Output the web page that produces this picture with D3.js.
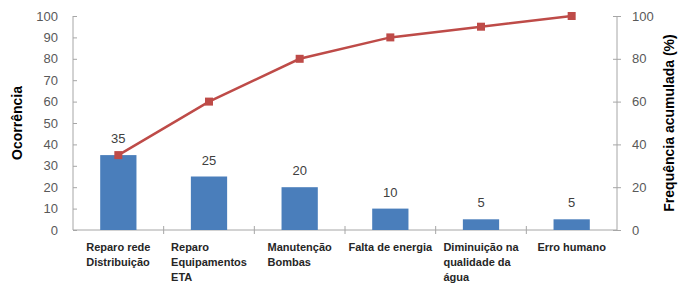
<!DOCTYPE html>
<html>
<head>
<meta charset="utf-8">
<script src="https://cdn.jsdelivr.net/npm/d3@7"></script>
<style>
  body { margin: 0; background: #fff; }
  text { font-family: "Liberation Sans", Arial, sans-serif; }
</style>
</head>
<body>
<svg id="chart" width="682" height="284"></svg>
<script>
// categories and values
const categories = [
  ["Reparo rede", "Distribuição"],
  ["Reparo", "Equipamentos", "ETA"],
  ["Manutenção", "Bombas"],
  ["Falta de energia"],
  ["Diminuição na", "qualidade da", "água"],
  ["Erro humano"]
];
const occurrences = [35, 25, 20, 10, 5, 5];
const cumulative = [35, 60, 80, 90, 95, 100];
const leftTicks = [0, 10, 20, 30, 40, 50, 60, 70, 80, 90, 100];
const rightTicks = [0, 20, 40, 60, 80, 100];

const svg = d3.select("#chart");
const m = { left: 73, right: 617, top: 16, bottom: 230 };

const keys = categories.map((d, i) => i);
const x = d3.scaleBand().domain(keys).range([m.left, m.right]).paddingInner(0.6).paddingOuter(0.3);
const xBand = d3.scaleBand().domain(keys).range([m.left, m.right]);
const yL = d3.scaleLinear().domain([0, 100]).range([m.bottom, m.top]);
const yR = d3.scaleLinear().domain([0, 100]).range([m.bottom, m.top]);

const axisColor = "#a6a6a6";
const labelColor = "#595959";

// left axis
const gL = svg.append("g").attr("transform", `translate(${m.left},0)`)
  .call(d3.axisLeft(yL).tickValues(leftTicks).tickSize(4).tickPadding(11));
gL.selectAll(".tick line").attr("x2", 4);

// right axis
const gR = svg.append("g").attr("transform", `translate(${m.right},0)`)
  .call(d3.axisRight(yR).tickValues(rightTicks).tickSize(4).tickPadding(11));
gR.selectAll(".tick line").attr("x1", -4);

// bottom axis line with ticks at category boundaries
const gB = svg.append("g");
gB.append("line").attr("x1", m.left).attr("x2", m.right)
  .attr("y1", m.bottom).attr("y2", m.bottom).attr("stroke", axisColor);
gB.selectAll("line.tk").data(keys.slice(1)).join("line").attr("class", "tk")
  .attr("x1", d => xBand(d)).attr("x2", d => xBand(d))
  .attr("y1", m.bottom - 4).attr("y2", m.bottom + 4).attr("stroke", axisColor);

[gL, gR].forEach(g => {
  g.select(".domain").attr("stroke", axisColor);
  g.selectAll(".tick line").attr("stroke", axisColor);
  g.selectAll(".tick text").attr("fill", labelColor).style("font-size", "13px");
});
gL.select(".domain").attr("d", `M0,${m.top}V${m.bottom}`);
gR.select(".domain").attr("d", `M0,${m.top}V${m.bottom}`);

// bars
svg.selectAll("rect.bar").data(occurrences).join("rect").attr("class", "bar")
  .attr("x", (d, i) => x(i)).attr("width", x.bandwidth())
  .attr("y", d => yL(d)).attr("height", d => m.bottom - yL(d))
  .attr("fill", "#4a7ebb");

// bar value labels
svg.selectAll("text.val").data(occurrences).join("text").attr("class", "val")
  .attr("x", (d, i) => x(i) + x.bandwidth() / 2).attr("y", d => yL(d) - 12)
  .attr("text-anchor", "middle").attr("fill", "#404040").style("font-size", "13px")
  .text(d => d);

// cumulative line
const cx = i => xBand(i) + xBand.bandwidth() / 2;
const line = d3.line().x((d, i) => cx(i)).y(d => yR(d));
svg.append("path").datum(cumulative).attr("d", line)
  .attr("fill", "none").attr("stroke", "#be4b48").attr("stroke-width", 2.5);
svg.selectAll("rect.mk").data(cumulative).join("rect").attr("class", "mk")
  .attr("x", (d, i) => cx(i) - 4).attr("y", d => yR(d) - 4)
  .attr("width", 8).attr("height", 8).attr("fill", "#be4b48");

// category labels: block centred on band, lines left aligned
categories.forEach((lines, i) => {
  const t = svg.append("text").attr("fill", "#262626")
    .style("font-size", "11px").style("font-weight", "bold");
  lines.forEach((s, j) => {
    t.append("tspan").attr("y", 251 + j * 15).text(s);
  });
  let w = 0;
  t.selectAll("tspan").each(function () { w = Math.max(w, this.getComputedTextLength()); });
  t.selectAll("tspan").attr("x", cx(i) - w / 2);
});

// axis titles
svg.append("text").attr("transform", `translate(22,${(m.top + m.bottom) / 2}) rotate(-90)`)
  .attr("text-anchor", "middle").style("font-size", "14px").style("font-weight", "bold")
  .attr("fill", "#000").text("Ocorrência");
svg.append("text").attr("transform", `translate(674,${(m.top + m.bottom) / 2}) rotate(-90)`)
  .attr("text-anchor", "middle").style("font-size", "14px").style("font-weight", "bold")
  .attr("fill", "#000").text("Frequência acumulada (%)");
</script>
</body>
</html>
